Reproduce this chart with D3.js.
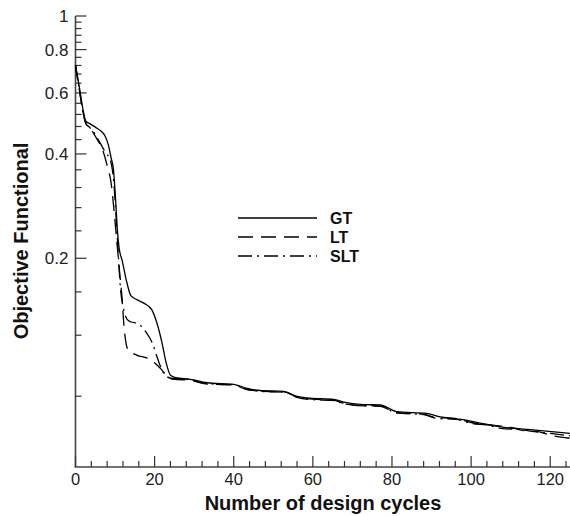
<!DOCTYPE html>
<html><head><meta charset="utf-8">
<script src="https://cdn.jsdelivr.net/npm/d3@7/dist/d3.min.js"></script>
<style>body{margin:0;background:#fff}svg{display:block}text{font-family:"Liberation Sans",Arial,sans-serif}</style>
</head><body><svg id="c" width="570" height="516"></svg>
<script>
const seriesNames = ["GT", "LT", "SLT"];
const xTickLabels = [0, 20, 40, 60, 80, 100, 120];
const yTickLabels = [1, 0.8, 0.6, 0.4, 0.2];
const gtX = [0,1,2,2.6,3.5,5,6.5,7.5,8.3,9,9.6,10.1,10.6,11,11.8,13,14,15.5,17.5,19.3,20.5,21.8,23,24,25.3,29,33.3,40,43.4,46.7,52.6,56,59.4,65.3,67.8,72.8,77,81.3,88.8,91.4,99,103,108,115,125];
const gtY = [0.72,0.62,0.53,0.497,0.49,0.478,0.465,0.45,0.425,0.39,0.36,0.30,0.24,0.215,0.197,0.17,0.156,0.152,0.148,0.142,0.131,0.115,0.099,0.092,0.0905,0.0895,0.0875,0.0866,0.0843,0.0831,0.0826,0.0799,0.079,0.0783,0.0769,0.0757,0.0755,0.0722,0.0714,0.0701,0.0682,0.0667,0.0652,0.0641,0.0625];
const ltX = [0,1,2,2.6,3.5,4.5,5.5,6.5,7.2,8,9,9.8,10.5,11.2,11.8,12.2,12.7,13.3,15.6,18.1,20.6,21.9,23.6,25,29,33,40,43,47,53,56,60,65,68,73,77,81,88,91,96,100,104,108,110,113,117,120,125];
const ltY = [0.72,0.61,0.52,0.49,0.475,0.46,0.44,0.42,0.40,0.37,0.33,0.27,0.22,0.18,0.152,0.13,0.115,0.109,0.105,0.103,0.0985,0.095,0.0904,0.0895,0.089,0.0868,0.0862,0.0838,0.0828,0.0822,0.0795,0.0785,0.078,0.0762,0.075,0.0748,0.0718,0.071,0.0695,0.069,0.0672,0.0662,0.0655,0.065,0.0638,0.0632,0.0618,0.0605];
const sltX = [0,1,2,2.6,3.5,4.5,5.5,6.5,7.5,8.8,9.7,10.5,11.4,12.2,13.1,14,15.6,17.7,19.4,20.6,21.9,23.2,24.4,25,29,33,40,43,47,53,56,60,65,68,73,77,81,88,91,97,100,104,108,112,116,120,125];
const sltY = [0.72,0.61,0.52,0.49,0.478,0.465,0.445,0.425,0.405,0.384,0.329,0.236,0.162,0.142,0.133,0.131,0.130,0.123,0.114,0.104,0.095,0.091,0.090,0.09,0.0893,0.0870,0.0864,0.0840,0.0826,0.0822,0.0794,0.0782,0.0778,0.0760,0.0752,0.0750,0.0716,0.0708,0.0692,0.0684,0.0668,0.066,0.0645,0.0642,0.0632,0.0625,0.0615];

const svg = d3.select("#c");
const x = d3.scaleLinear().domain([0, 125]).range([75.5, 570]);
const y = d3.scaleLog().domain([0.05, 1]).range([467, 16]);

const minorY = d3.range(2, 25).map(i => +(i * 0.04).toFixed(2)).filter(v => v >= 0.05 && !yTickLabels.some(m => Math.abs(m - v) < 1e-6));
const minorX = d3.range(0, 126, 4).filter(v => v % 20 !== 0);

// y axis
const yAxis = svg.append("g").attr("transform", "translate(75.5,0)");
yAxis.append("line").attr("y1", y(1)).attr("y2", y(0.05)).attr("stroke", "#444").attr("stroke-width", 1.6);
yAxis.selectAll(".ym").data(minorY).join("line").attr("x1", 0).attr("x2", 6).attr("y1", d => y(d)).attr("y2", d => y(d)).attr("stroke", "#333").attr("stroke-width", 1.2);
yAxis.selectAll(".yM").data(yTickLabels).join("line").attr("x1", 0).attr("x2", 11).attr("y1", d => y(d)).attr("y2", d => y(d)).attr("stroke", "#333").attr("stroke-width", 1.2);
yAxis.selectAll(".yl").data(yTickLabels).join("text").attr("x", -7).attr("y", d => y(d)).attr("dy", "0.35em").attr("text-anchor", "end").attr("font-size", 17).attr("fill", "#222").text(d => d);

// x axis
const xAxis = svg.append("g").attr("transform", "translate(0,467)");
xAxis.append("line").attr("x1", x(0) - 0.8).attr("x2", 570).attr("stroke", "#444").attr("stroke-width", 1.6);
xAxis.selectAll(".xm").data(minorX).join("line").attr("x1", d => x(d)).attr("x2", d => x(d)).attr("y1", 0).attr("y2", -6).attr("stroke", "#333").attr("stroke-width", 1.2);
xAxis.selectAll(".xM").data(xTickLabels).join("line").attr("x1", d => x(d)).attr("x2", d => x(d)).attr("y1", 0).attr("y2", -11).attr("stroke", "#333").attr("stroke-width", 1.2);
xAxis.selectAll(".xl").data(xTickLabels).join("text").attr("x", d => x(d)).attr("y", 18).attr("text-anchor", "middle").attr("font-size", 16.5).attr("fill", "#222").text(d => d);

svg.append("text").attr("x", 323).attr("y", 510).attr("text-anchor", "middle").attr("font-size", 20).attr("font-weight", "bold").attr("fill", "#111").text("Number of design cycles");
svg.append("text").attr("transform", "translate(28,241) rotate(-90)").attr("text-anchor", "middle").attr("font-size", 20).attr("font-weight", "bold").attr("fill", "#111").text("Objective Functional");

const dashes = ["none", "15,8", "14,5,2,5"];
const data = [d3.zip(gtX, gtY), d3.zip(ltX, ltY), d3.zip(sltX, sltY)];
const line = d3.line().x(d => x(d[0])).y(d => y(d[1])).curve(d3.curveMonotoneX);
svg.selectAll(".s").data(data).join("path").attr("d", line).attr("fill", "none").attr("stroke", "#000").attr("stroke-width", 1.3).attr("stroke-dasharray", (d, i) => dashes[i]);

// legend
const lg = svg.append("g");
const ly = [218, 237, 256];
seriesNames.forEach((n, i) => {
  lg.append("line").attr("x1", 238).attr("x2", 317).attr("y1", ly[i]).attr("y2", ly[i]).attr("stroke", "#000").attr("stroke-width", 1.3).attr("stroke-dasharray", dashes[i]);
  lg.append("text").attr("x", 330).attr("y", ly[i]).attr("dy", "0.36em").attr("font-size", 16).attr("font-weight", "bold").attr("fill", "#111").text(n);
});
</script></body></html>
